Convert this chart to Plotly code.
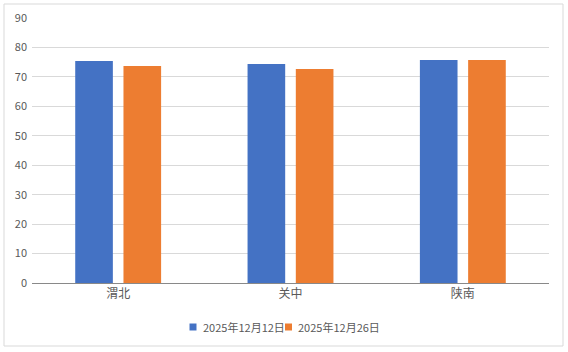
import plotly.graph_objects as go

categories = ["渭北", "关中", "陕南"]
series_names = ["2025年12月12日", "2025年12月26日"]
values_a = [75.4, 74.4, 75.7]
values_b = [73.7, 72.7, 75.7]
colors = ["#4472C4", "#ED7D31"]
y_ticks = [0, 10, 20, 30, 40, 50, 60, 70, 80, 90]

fig = go.Figure()
for name, vals, c in zip(series_names, [values_a, values_b], colors):
    fig.add_trace(go.Bar(x=categories, y=vals, name=name, showlegend=False,
                         marker=dict(color=c, line=dict(width=0))))

font = "Noto Sans CJK SC, sans-serif"

# plot-area pixel geometry -> paper coords
L, R, T, B, W, H = 32, 19, 18, 69, 568, 352
pw, ph = W - L - R, H - T - B
px = lambda x: (x - L) / pw
py = lambda y: (H - B - y) / ph

shapes = [dict(type="rect", xref="paper", yref="paper", x0=px(4), x1=px(563), y0=py(346), y1=py(4),
               line=dict(color="#d9d9d9", width=1), fillcolor="rgba(0,0,0,0)", layer="below")]
annotations = []
legend_x = [189.5, 285]
for name, c, lx in zip(series_names, colors, legend_x):
    shapes.append(dict(type="rect", xref="paper", yref="paper", x0=px(lx), x1=px(lx + 7),
                       y0=py(330.5), y1=py(323.5), line=dict(width=0), fillcolor=c))
    annotations.append(dict(text=name, xref="paper", yref="paper", x=px(lx + 11), y=py(327),
                            xanchor="left", yanchor="middle", showarrow=False,
                            font=dict(size=11, color="#595959", family=font)))

fig.update_layout(
    width=W, height=H,
    margin=dict(l=L, r=R, t=T, b=B, autoexpand=False),
    paper_bgcolor="white", plot_bgcolor="white",
    barmode="group", bargap=0.44, bargroupgap=0.22,
    font=dict(family=font, size=12, color="#595959"),
    showlegend=False,
    xaxis=dict(showgrid=False, showline=True, linecolor="#898989", linewidth=1,
               ticks="", tickfont=dict(size=12, color="#595959")),
    yaxis=dict(range=[0, 90], tickvals=y_ticks, showgrid=True, gridcolor="#d9d9d9", gridwidth=1,
               zeroline=False, showline=False, ticks="", tickfont=dict(size=11, color="#595959"),
               ticklabelstandoff=4),
    shapes=shapes,
    annotations=annotations,
)
fig.write_html("out.html")
